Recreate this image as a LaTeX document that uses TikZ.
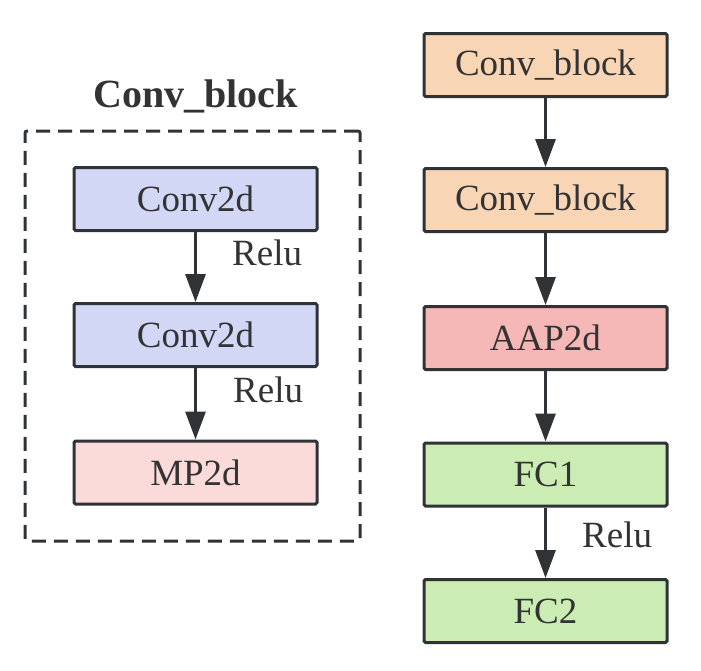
\documentclass[tikz,border=0pt]{standalone}
\usepackage{fontspec}
\setmainfont{Liberation Serif}
\usetikzlibrary{arrows.meta}
\definecolor{edge}{HTML}{2F3336}
\definecolor{txt}{HTML}{333333}
\definecolor{cblue}{HTML}{D3D7F6}
\definecolor{cpeach}{HTML}{F8D5B4}
\definecolor{cred}{HTML}{F5B8B6}
\definecolor{cpink}{HTML}{FADBDA}
\definecolor{cgreen}{HTML}{CBEDB4}
\begin{document}
\begin{tikzpicture}[x=1pt,y=-1pt,
  box/.style={draw=edge, line width=3pt, rounded corners=1.5pt, minimum width=243pt, minimum height=63pt, inner sep=0pt, text=txt, font=\fontsize{37}{40}\selectfont},
  arr/.style={draw=edge, line width=3pt, -{Triangle[length=28pt,width=20pt]}},
  lbl/.style={text=txt, font=\fontsize{37}{40}\selectfont, inner sep=0pt, anchor=base west}]
\useasboundingbox[fill=white] (0,0) rectangle (701,670);
% left block
\node (blk) [draw=edge, line width=3pt, dash pattern=on 14pt off 8pt, rounded corners=2pt, minimum width=335pt, minimum height=410pt, inner sep=0pt] at (192.5,336) {};
\node (title) [text=txt, font=\fontsize{40}{44}\bfseries\selectfont, inner sep=0pt, anchor=base] at (195.5,107) {Conv\_block};
\node (a1) [box, fill=cblue] at (195.5,199) {Conv2d};
\node (a2) [box, fill=cblue] at (195.5,335) {Conv2d};
\node (a3) [box, fill=cpink] at (195.5,472.5) {MP2d};
\draw[arr] (a1) -- (a2);
\draw[arr] (a2) -- (a3);
\node (r1) [lbl] at (232,265) {Relu};
\node (r2) [lbl] at (233,402) {Relu};
% right chain
\node (b1) [box, fill=cpeach] at (545.5,65) {Conv\_block};
\node (b2) [box, fill=cpeach] at (545.5,200) {Conv\_block};
\node (b3) [box, fill=cred] at (545.5,338) {AAP2d};
\node (b4) [box, fill=cgreen] at (545.5,474.5) {FC1};
\node (b5) [box, fill=cgreen] at (545.5,611) {FC2};
\draw[arr] (b1) -- (b2);
\draw[arr] (b2) -- (b3);
\draw[arr] (b3) -- (b4);
\draw[arr] (b4) -- (b5);
\node (r3) [lbl] at (582,547) {Relu};
\end{tikzpicture}
\end{document}
